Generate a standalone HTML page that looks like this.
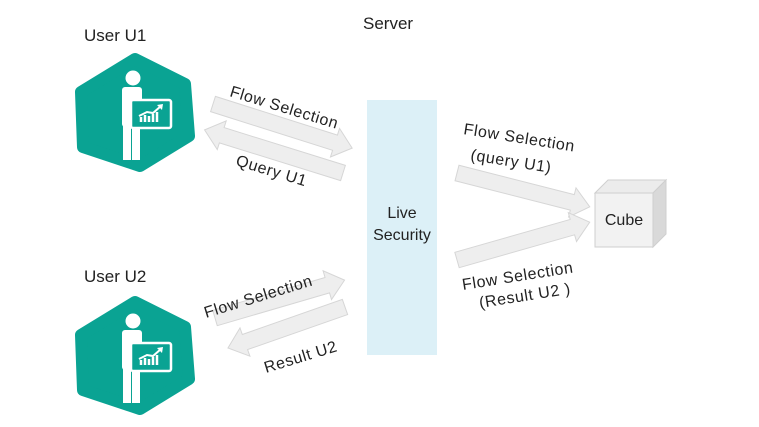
<!DOCTYPE html>
<html><head><style>
body{margin:0;background:#fff;}
svg{display:block;font-family:"Liberation Sans",sans-serif;}
</style></head><body>
<svg width="759" height="427" viewBox="0 0 759 427" xmlns="http://www.w3.org/2000/svg">
<defs>
<g id="person">
  <path d="M0,-53 L50,-28 L54,24 L5,54 L-52,35 L-54,-20 Z" fill="#0aa393" stroke="#0aa393" stroke-width="12" stroke-linejoin="round"/>
  <circle cx="-2" cy="-34" r="7.5" fill="#fff"/>
  <rect x="-13" y="-25" width="20" height="40" rx="3" fill="#fff"/>
  <rect x="-12" y="10" width="8" height="38" fill="#fff"/>
  <rect x="-3" y="10" width="8" height="38" fill="#fff"/>
  <rect x="-4" y="-12" width="40" height="28" rx="2" fill="#0aa393" stroke="#fff" stroke-width="2.5"/>
  <path d="M6,10 L6,5 M10,10 L10,3 M14,10 L14,4 M18,10 L18,2 M22,10 L22,0" stroke="#fff" stroke-width="2.5"/>
  <path d="M4,4 L12,0 L18,1 L26,-6" stroke="#fff" stroke-width="2" fill="none"/>
  <path d="M22,-7 L28,-8 L27,-2 Z" fill="#fff"/>
</g>
</defs>
<g fill="#222" font-size="17">
<text x="84" y="41">User U1</text>
<text x="84" y="282">User U2</text>
<text x="363" y="29">Server</text>
</g>
<use href="#person" x="135" y="112"/>
<use href="#person" x="135" y="355"/>
<rect x="367" y="100" width="70" height="255" fill="#dcf0f7"/>
<text x="402" y="218" text-anchor="middle" font-size="16" fill="#222">Live</text>
<text x="402" y="240" text-anchor="middle" font-size="16" fill="#222">Security</text>
<g fill="#eeeeee" stroke="#d6d6d6" stroke-width="1">
<polygon transform="translate(213,104) rotate(17.6)" points="0,-8 128,-8 128,-15 146,0 128,15 128,8 0,8"/>
<polygon transform="translate(343,173) rotate(197.3)" points="0,-8 127,-8 127,-15 145,0 127,15 127,8 0,8"/>
<polygon transform="translate(215,318) rotate(-16.3)" points="0,-8 117,-8 117,-15 135,0 117,15 117,8 0,8"/>
<polygon transform="translate(345,307) rotate(160.7)" points="0,-8 106,-8 106,-15 124,0 106,15 106,8 0,8"/>
<polygon transform="translate(457,173) rotate(14.3)" points="0,-8 119,-8 119,-15 137,0 119,15 119,8 0,8"/>
<polygon transform="translate(457,260) rotate(-15.9)" points="0,-8 120,-8 120,-15 138,0 120,15 120,8 0,8"/>
</g>
<g fill="#222" font-size="16" letter-spacing="0.6">
<text transform="translate(229,96) rotate(17)">Flow  Selection</text>
<text transform="translate(235,165) rotate(17)">Query U1</text>
<text transform="translate(206,318) rotate(-17)">Flow  Selection</text>
<text transform="translate(266,373) rotate(-17)">Result U2</text>
<text transform="translate(463,134) rotate(9)">Flow  Selection</text>
<text transform="translate(470,160) rotate(9)">(query U1)</text>
<text transform="translate(463,290) rotate(-9)">Flow  Selection</text>
<text transform="translate(480,308) rotate(-9)">(Result U2 )</text>
</g>
<polygon points="595,193 608,180 666,180 653,193" fill="#ececec" stroke="#cfcfcf"/>
<polygon points="653,193 666,180 666,234 653,247" fill="#d9d9d9" stroke="#cfcfcf"/>
<rect x="595" y="193" width="58" height="54" fill="#f2f2f2" stroke="#cfcfcf"/>
<text x="624" y="225" text-anchor="middle" font-size="16" fill="#222">Cube</text>
</svg>
</body></html>
